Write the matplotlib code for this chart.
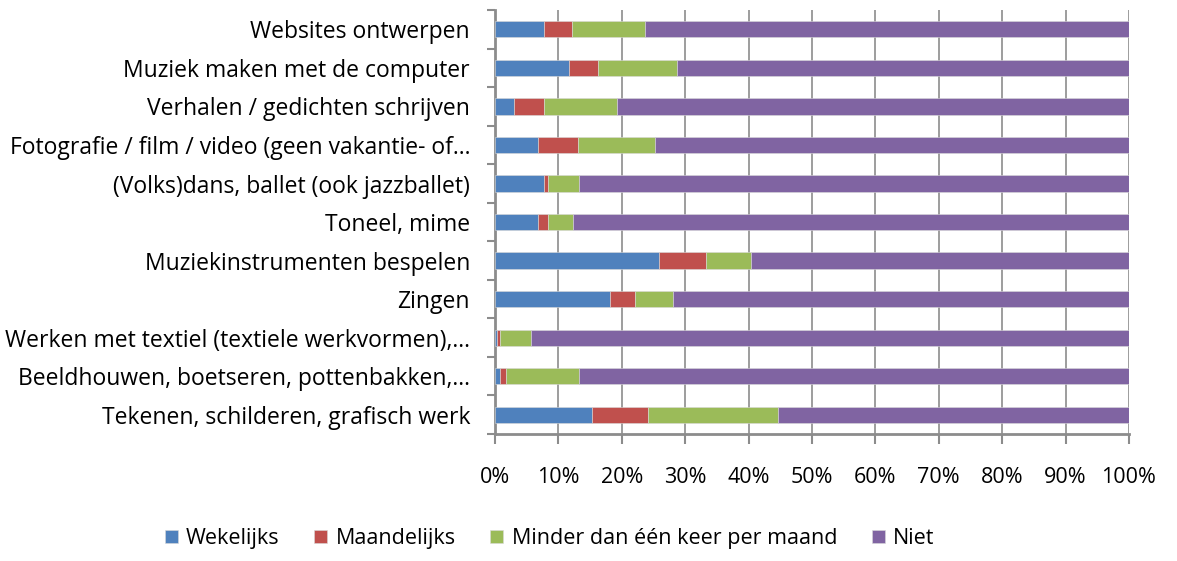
import numpy as np
import matplotlib.pyplot as plt
from matplotlib.ticker import FixedLocator, PercentFormatter

categories = [
    'Tekenen, schilderen, grafisch werk',
    'Beeldhouwen, boetseren, pottenbakken,…',
    'Werken met textiel (textiele werkvormen),…',
    'Zingen',
    'Muziekinstrumenten bespelen',
    'Toneel, mime',
    '(Volks)dans, ballet (ook jazzballet)',
    'Fotografie / film / video (geen vakantie- of…',
    'Verhalen / gedichten schrijven',
    'Muziek maken met de computer',
    'Websites ontwerpen',
]

series_names = ['Wekelijks', 'Maandelijks', 'Minder dan één keer per maand', 'Niet']

# percentages per category (bottom to top)
wekelijks   = [15.3, 0.8, 0.3, 18.2, 25.8, 6.8, 7.8, 6.8, 3.0, 11.6, 7.8]
maandelijks = [8.9, 0.9, 0.5, 3.8, 7.5, 1.6, 0.6, 6.3, 4.7, 4.7, 4.3]
minder      = [20.5, 11.5, 4.8, 6.1, 7.0, 3.9, 4.8, 12.1, 11.5, 12.4, 11.5]
niet = [100 - a - b - c for a, b, c in zip(wekelijks, maandelijks, minder)]

colors = ['#4F81BD', '#C0504D', '#9BBB59', '#8064A2']

plt.rcParams['font.family'] = ['Open Sans', 'DejaVu Sans']

fig = plt.figure(figsize=(11.77, 5.61), dpi=100)
ax = fig.add_axes([0.4206, 0.2264, 0.5386, 0.7556])

y = np.arange(len(categories))
left = np.zeros(len(categories))
for name, vals, col in zip(series_names, [wekelijks, maandelijks, minder, niet], colors):
    ax.barh(y, vals, left=left, height=0.42, color=col, label=name,
            edgecolor='#d9d9d9', linewidth=0.4, zorder=3)
    left += np.array(vals)

ax.set_xlim(0, 100)
ax.set_ylim(-0.5, len(categories) - 0.5)

ax.xaxis.set_major_locator(FixedLocator(np.arange(0, 101, 10)))
ax.xaxis.set_major_formatter(PercentFormatter(decimals=0))
ax.grid(axis='x', color='#8c8c8c', linewidth=1.2, zorder=0)

ax.set_yticks(y)
ax.set_yticklabels(categories)
ax.yaxis.set_minor_locator(FixedLocator(np.arange(-0.5, len(categories), 1)))
ax.tick_params(axis='y', which='major', length=0, pad=18, labelsize=16.5)
ax.tick_params(axis='y', which='minor', length=6, width=1.5, color='#8c8c8c')
ax.tick_params(axis='x', which='major', length=7, width=1.5, color='#8c8c8c',
               pad=17, labelsize=15.5)

for s in ['top', 'right']:
    ax.spines[s].set_visible(False)
for s in ['left', 'bottom']:
    ax.spines[s].set_color('#8c8c8c')
    ax.spines[s].set_linewidth(2)

fig.legend(loc='center', bbox_to_anchor=(0.467, 0.04), ncol=4, frameon=False,
           fontsize=15.5, handlelength=0.6, handleheight=0.6, handletextpad=0.4,
           columnspacing=1.6)

fig.savefig('out.png', dpi=100)
